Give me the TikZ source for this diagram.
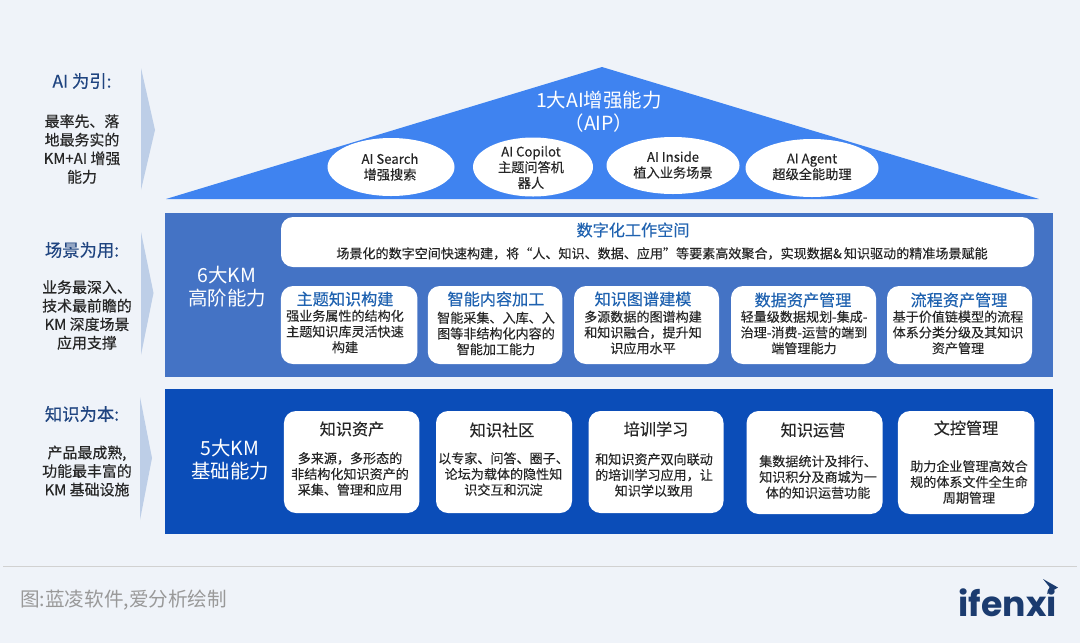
\documentclass[tikz,border=0pt]{standalone}
\usepackage{fontspec}
\usetikzlibrary{shapes.geometric}
\setmainfont{Noto Sans CJK SC}
\newfontfamily\medfont[FakeBold=0.4]{Noto Sans CJK SC}
\newfontfamily\bodyfont[FakeBold=0.15]{Noto Sans CJK SC}
\newfontfamily\logofont{Poppins}
\definecolor{pagebg}{HTML}{EFF3F9}
\definecolor{roofblue}{HTML}{3F83F0}
\definecolor{midblue}{HTML}{4473C5}
\definecolor{deepblue}{HTML}{0B4DB8}
\definecolor{headblue}{HTML}{1F4480}
\definecolor{titleblue}{HTML}{1F62B0}
\definecolor{arrowblue}{HTML}{BDCEE7}
\definecolor{navy}{HTML}{1B3B6F}
\begin{document}
\begin{tikzpicture}
			[x=.75pt, y=-.75pt,
			wh/.style 2 args={minimum width=#1*.75pt, minimum height=#2*.75pt},
			card/.style ={rectangle, rounded corners=9pt, fill=white, inner sep=0pt},
			oval/.style ={ellipse, fill=white, inner sep=0pt},
			head/.style ={font=\medfont\fontsize{13}{15}\selectfont, text=headblue, inner sep=0pt},
			side/.style ={font=\medfont\fontsize{11.2}{13.9}\selectfont, text=black!85, align=center, inner sep=0pt},
			big/.style ={font=\fontsize{14.6}{17.2}\selectfont, text=white, align=center, inner sep=0pt},
			bluetitle/.style ={font=\medfont\fontsize{12.1}{14}\selectfont, text=titleblue, inner sep=0pt},
			darktitle/.style ={font=\medfont\fontsize{12.1}{14}\selectfont, text=black!85, inner sep=0pt},
			body/.style ={font=\bodyfont\fontsize{9.8}{11.8}\selectfont, text=black!85, align=center, inner sep=0pt},
			small/.style ={font=\bodyfont\fontsize{9.9}{11.8}\selectfont, text=black!85, align=center, inner sep=0pt}]
			\fill[pagebg] (0,0) rectangle (1080,643);
			\useasboundingbox (0,0) rectangle (1080,643);

			% left column
			\fill[arrowblue] (141,68) -- (155,130) -- (141,190) -- cycle;
			\fill[arrowblue] (141,232) -- (153.5,293) -- (141,355) -- cycle;
			\fill[arrowblue] (140,397) -- (152,458) -- (140,520) -- cycle;
			\node[head] (h1) at (82,81) {AI 为引:};
			\node[side] (s1) at (82,149) {最率先、落\\地最务实的\\KM+AI 增强\\能力};
			\node[head] (h2) at (82,250) {场景为用:};
			\node[side] (s2) at (87,315) {业务最深入、\\技术最前瞻的\\KM 深度场景\\应用支撑};
			\node[head] (h3) at (82,414) {知识为本:};
			\node[side] (s3) at (87,471) {产品最成熟,\\功能最丰富的\\KM 基础设施};

			% roof
			\coordinate (r1) at (166,199);
			\coordinate (r2) at (602,67);
			\coordinate (r3) at (1039,199);
			\fill[roofblue] (r1) -- (r2) -- (r3) -- cycle;
			\node[big] (roof) at (599,111.5) {1大AI增强能力\\（AIP）};
			\node[oval, wh={127}{58}] (e1) at (391,167) {};
			\node[oval, wh={120}{59}] (e2) at (533,167) {};
			\node[oval, wh={133}{57}] (e3) at (673,165.5) {};
			\node[oval, wh={133}{58}] (e4) at (812,168) {};
			\node[small] (t1) at (390,167) {AI Search\\增强搜索};
			\node[small] (t2) at (531,167.5) {AI Copilot\\主题问答机\\器人};
			\node[small] (t3) at (673,165) {AI Inside\\植入业务场景};
			\node[small] (t4) at (812,167) {AI Agent\\超级全能助理};

			% middle band
			\node[fill=midblue, inner sep=0pt, wh={888}{164}] (b2) at (609,294.7) {};
			\node[big] (l2) at (227,286.5) {6大KM\\高阶能力};
			\node[card, wh={753}{50}] (w0) at (657.5,242) {};
			\node[bluetitle] (w1) at (633,230) {数字化工作空间};
			\node[body] (w2) at (662,253.5) {场景化的数字空间快速构建，将“人、知识、数据、应用”等要素高效聚合，实现数据\&\,知识驱动的精准场景赋能};
			\node[card, wh={136.5}{78}] (c1) at (349.2,325) {};
			\node[card, wh={134.5}{78}] (c2) at (495,325) {};
			\node[card, wh={145}{78}] (c3) at (646.5,325) {};
			\node[card, wh={145}{78}] (c4) at (803.5,325) {};
			\node[card, wh={145}{78}] (c5) at (959.5,325) {};
			\node[bluetitle] (c1t) at (345,299) {主题知识构建};
			\node[bluetitle] (c2t) at (496,299) {智能内容加工};
			\node[bluetitle] (c3t) at (643,299) {知识图谱建模};
			\node[bluetitle] (c4t) at (803,300) {数据资产管理};
			\node[bluetitle] (c5t) at (959,300) {流程资产管理};
			\node[body] (c1b) at (345,331.5) {强业务属性的结构化\\主题知识库灵活快速\\构建};
			\node[body] (c2b) at (496,333.5) {智能采集、入库、入\\图等非结构化内容的\\智能加工能力};
			\node[body] (c3b) at (643,332.5) {多源数据的图谱构建\\和知识融合，提升知\\识应用水平};
			\node[body] (c4b) at (804,332.5) {轻量级数据规划-集成-\\治理-消费-运营的端到\\端管理能力};
			\node[body] (c5b) at (958,332.5) {基于价值链模型的流程\\体系分类分级及其知识\\资产管理};

			% bottom band
			\node[fill=deepblue, inner sep=0pt, wh={888}{145}] (b3) at (609,461.5) {};
			\node[big] (l3) at (230,459.5) {5大KM\\基础能力};
			\node[card, wh={135.5}{102}] (d1) at (351.7,462) {};
			\node[card, wh={136}{102}] (d2) at (504,462) {};
			\node[card, wh={135}{102}] (d3) at (656,462) {};
			\node[card, wh={136}{103}] (d4) at (814.6,462.5) {};
			\node[card, wh={136.5}{103}] (d5) at (966.2,462.5) {};
			\node[darktitle] (d1t) at (352,429) {知识资产};
			\node[darktitle] (d2t) at (502,430) {知识社区};
			\node[darktitle] (d3t) at (656,429) {培训学习};
			\node[darktitle] (d4t) at (813,430) {知识运营};
			\node[darktitle] (d5t) at (966,428) {文控管理};
			\node[body] (d1b) at (350,474) {多来源，多形态的\\非结构化知识资产的\\采集、管理和应用};
			\node[body] (d2b) at (503.5,474) {以专家、问答、圈子、\\论坛为载体的隐性知\\识交互和沉淀};
			\node[body] (d3b) at (654,475) {和知识资产双向联动\\的培训学习应用，让\\知识学以致用};
			\node[body] (d4b) at (818,477) {集数据统计及排行、\\知识积分及商城为一\\体的知识运营功能};
			\node[body] (d5b) at (969,482) {助力企业管理高效合\\规的体系文件全生命\\周期管理};

			% footer
			\coordinate (f1) at (3,566.7);
			\coordinate (f2) at (1077,566.7);
			\draw[color=black!18, line width=.75pt] (f1) -- (f2);
			\node[anchor=west, inner sep=0pt, text=black!40, font=\fontsize{14.7}{17}\selectfont] (src) at (20,600) {图:蓝凌软件,爱分析绘制};
			\node[anchor=east, inner sep=0pt, text=navy, font=\logofont\bfseries\fontsize{26}{29}\selectfont] (logo) at (1057,602.5) {ifenxi};
			\fill[navy] (1043,579) -- (1058,587.5) -- (1047,594) -- (1049.5,587) -- cycle;
		\end{tikzpicture}
\end{document}
